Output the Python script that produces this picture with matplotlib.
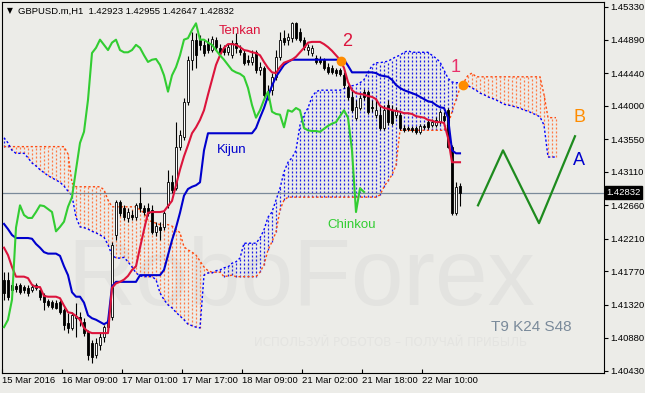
import matplotlib.pyplot as plt
import matplotlib.transforms as mtransforms
import numpy as np

# GBPUSD.m H1, prices in points (price * 10000); index = bar number
opens = [14166, 14166, 14159, 14157, 14159, 14156, 14155, 14152, 14155, 14152,
         14145, 14137, 14136, 14135, 14136, 14125, 14108, 14101, 14114, 14116,
         14109, 14096, 14081, 14065, 14078, 14089, 14102, 14116, 14226, 14271,
         14262, 14249, 14253, 14250, 14269, 14262, 14262, 14260, 14230, 14237,
         14237, 14266, 14297, 14289, 14345, 14358, 14405, 14462, 14489, 14489,
         14482, 14485, 14475, 14489, 14478, 14478, 14472, 14468, 14485, 14475,
         14471, 14462, 14459, 14472, 14448, 14451, 14419, 14421, 14439, 14466,
         14491, 14489, 14491, 14511, 14499, 14489, 14475, 14471, 14464, 14463,
         14462, 14452, 14451, 14448, 14448, 14441, 14425, 14412, 14384, 14397,
         14419, 14419, 14398, 14388, 14388, 14370, 14401, 14394, 14388, 14388,
         14370, 14370, 14370, 14370, 14365, 14373, 14378, 14374, 14374, 14378,
         14386, 14394, 14345, 14256, 14292.3]
highs = [14176, 14176, 14163, 14161, 14161, 14159, 14159, 14160, 14161, 14155,
         14148, 14140, 14139, 14139, 14139, 14128, 14121, 14122, 14135, 14122,
         14114, 14098, 14085, 14087, 14094, 14105, 14116, 14217, 14273, 14273,
         14266, 14262, 14260, 14269, 14291, 14266, 14269, 14266, 14244, 14244,
         14260, 14314, 14307, 14378, 14367, 14411, 14467, 14499, 14498, 14495,
         14489, 14491, 14494, 14493, 14483, 14482, 14483, 14489, 14498, 14482,
         14475, 14468, 14475, 14475, 14459, 14454, 14428, 14444, 14475, 14499,
         14502, 14498, 14513, 14513, 14505, 14493, 14483, 14482, 14468, 14467,
         14464, 14458, 14455, 14451, 14451, 14446, 14428, 14421, 14408, 14415,
         14423, 14421, 14408, 14410, 14401, 14401, 14408, 14401, 14398, 14392,
         14374, 14373, 14373, 14373, 14376, 14376, 14381, 14382, 14385, 14394,
         14392, 14397, 14347, 14297, 14295.5]
lows = [14139, 14139, 14148, 14149, 14147, 14148, 14144, 14149, 14152, 14139,
        14125, 14129, 14126, 14126, 14120, 14098, 14094, 14098, 14089, 14104,
        14090, 14058, 14054, 14060, 14071, 14082, 14098, 14112, 14219, 14252,
        14246, 14244, 14246, 14246, 14257, 14253, 14252, 14227, 14225, 14219,
        14233, 14262, 14283, 14287, 14341, 14354, 14401, 14448, 14451, 14475,
        14467, 14471, 14472, 14475, 14468, 14468, 14468, 14464, 14471, 14468,
        14455, 14455, 14455, 14444, 14441, 14410, 14408, 14415, 14435, 14462,
        14482, 14482, 14486, 14489, 14486, 14475, 14468, 14467, 14456, 14456,
        14448, 14443, 14443, 14440, 14440, 14424, 14408, 14392, 14381, 14394,
        14408, 14389, 14392, 14384, 14367, 14367, 14374, 14374, 14384, 14367,
        14365, 14366, 14365, 14362, 14362, 14369, 14369, 14371, 14371, 14376,
        14378, 14343, 14253, 14253, 14264.7]
closes = [14148, 14143, 14152, 14153, 14149, 14152, 14148, 14156, 14159, 14143,
          14136, 14132, 14129, 14128, 14122, 14105, 14101, 14118, 14117, 14112,
          14094, 14065, 14062, 14081, 14089, 14102, 14112, 14213, 14271, 14256,
          14250, 14257, 14250, 14266, 14262, 14257, 14256, 14230, 14238, 14233,
          14256, 14297, 14287, 14345, 14361, 14405, 14462, 14489, 14468, 14482,
          14471, 14475, 14490, 14479, 14471, 14472, 14479, 14485, 14478, 14472,
          14458, 14459, 14466, 14448, 14452, 14415, 14412, 14439, 14466, 14489,
          14486, 14493, 14511, 14491, 14489, 14479, 14479, 14478, 14459, 14459,
          14451, 14445, 14445, 14444, 14443, 14428, 14412, 14394, 14398, 14410,
          14412, 14392, 14397, 14394, 14370, 14394, 14378, 14377, 14394, 14370,
          14367, 14369, 14367, 14365, 14373, 14371, 14371, 14378, 14381, 14392,
          14381, 14345, 14256, 14291, 14283.2]

tenkan = [14209, 14199, 14183, 14170, 14170, 14170, 14168, 14159, 14156, 14156,
          14144, 14143, 14143, 14143, 14141, 14131, 14122, 14121, 14117, 14112,
          14101, 14096, 14094, 14094, 14094, 14094, 14094, 14155, 14161, 14163,
          14166, 14171, 14179, 14184, 14209, 14233, 14256, 14257, 14257, 14257,
          14258, 14265, 14272, 14293, 14314, 14332, 14347, 14363, 14371, 14381,
          14394, 14415, 14435, 14455, 14468, 14478, 14483, 14483, 14482, 14479,
          14475, 14474, 14472, 14471, 14468, 14459, 14451, 14445, 14444, 14452,
          14458, 14460, 14462, 14466, 14472, 14478, 14485, 14486, 14486, 14486,
          14483, 14479, 14474, 14468, 14462, 14451, 14432, 14421, 14417, 14416,
          14415, 14413, 14412, 14409, 14400, 14397, 14396, 14394, 14393, 14392,
          14390, 14390, 14389, 14386, 14385, 14384, 14381, 14380, 14378, 14378,
          14377, 14357, 14324, 14324, 14324]
kijun = [14241, 14234, 14226, 14222, 14222, 14222, 14222, 14221, 14214, 14209,
         14203, 14201, 14201, 14201, 14198, 14184, 14172, 14149, 14143, 14143,
         14135, 14118, 14114, 14112, 14109, 14106, 14109, 14157, 14163, 14163,
         14163, 14163, 14163, 14163, 14172, 14172, 14172, 14172, 14172, 14172,
         14179, 14199, 14219, 14236, 14256, 14279, 14288, 14291, 14293, 14297,
         14340, 14363, 14363, 14363, 14363, 14363, 14363, 14363, 14363, 14363,
         14363, 14363, 14363, 14370, 14384, 14397, 14413, 14427, 14439, 14447,
         14455, 14459, 14462, 14462, 14462, 14462, 14462, 14462, 14462, 14462,
         14462, 14462, 14462, 14462, 14462, 14462, 14454, 14445, 14445, 14445,
         14445, 14445, 14445, 14444, 14441, 14440, 14439, 14435, 14428, 14424,
         14421, 14419, 14417, 14415, 14412, 14409, 14406, 14405, 14401, 14398,
         14397, 14384, 14340, 14336, 14336]
chinkou = [14102, 14112, 14139, 14236, 14266, 14253, 14249, 14249, 14257, 14266,
           14265, 14261, 14257, 14231, 14237, 14244, 14264, 14277, 14314, 14350,
           14365, 14408, 14471, 14478, 14489, 14482, 14475, 14485, 14489, 14475,
           14472, 14472, 14475, 14482, 14478, 14468, 14459, 14462, 14463, 14455,
           14441, 14419, 14441, 14452, 14468, 14489, 14491, 14502, 14511, 14489,
           14489, 14485, 14482, 14475, 14468, 14462, 14455, 14448, 14445, 14443,
           14439, 14424, 14401, 14384, 14394, 14408, 14419, 14392, 14389, 14388,
           14371, 14394, 14392, 14397, 14394, 14370, 14367, 14366, 14366, 14365,
           14369, 14373, 14376, 14378, 14386, 14394, 14384, 14340, 14257, 14289,
           14284]
span_a = [14345, 14345, 14345, 14345, 14345, 14345, 14345, 14345, 14345, 14345,
          14345, 14345, 14345, 14345, 14345, 14345, 14335, 14296, 14291, 14291,
          14291, 14291, 14291, 14291, 14291, 14287, 14273, 14264, 14264, 14264,
          14264, 14264, 14264, 14264, 14260, 14256, 14246, 14244, 14242, 14240,
          14240, 14240, 14238, 14234, 14229, 14210, 14206, 14203, 14199, 14191,
          14183, 14178, 14176, 14176, 14176, 14170, 14171, 14172, 14170, 14170,
          14170, 14170, 14170, 14170, 14176, 14186, 14206, 14217, 14230, 14260,
          14273, 14277, 14277, 14277, 14277, 14277, 14277, 14277, 14277, 14277,
          14277, 14277, 14277, 14277, 14277, 14277, 14277, 14277, 14277, 14277,
          14277, 14277, 14277, 14277, 14280, 14291, 14299, 14307, 14320, 14367,
          14367, 14367, 14367, 14367, 14367, 14367, 14367, 14367, 14367, 14367,
          14367, 14374, 14392, 14408, 14424, 14432, 14441, 14444, 14439, 14439,
          14439, 14439, 14439, 14439, 14439, 14439, 14439, 14439, 14439, 14439,
          14439, 14439, 14439, 14439, 14439, 14415, 14384, 14384, 14384]
span_b = [14357, 14350, 14340, 14336, 14336, 14336, 14330, 14323, 14319, 14314,
          14310, 14306, 14303, 14300, 14297, 14292, 14285, 14279, 14250, 14237,
          14236, 14234, 14231, 14229, 14226, 14223, 14213, 14199, 14195, 14195,
          14196, 14190, 14183, 14175, 14171, 14170, 14170, 14170, 14166, 14148,
          14139, 14132, 14128, 14122, 14117, 14112, 14106, 14104, 14102, 14101,
          14172, 14175, 14175, 14178, 14179, 14182, 14183, 14188, 14190, 14195,
          14215, 14215, 14215, 14215, 14222, 14233, 14250, 14257, 14273, 14289,
          14311, 14324, 14330, 14340, 14374, 14388, 14397, 14412, 14419, 14421,
          14421, 14421, 14421, 14421, 14421, 14423, 14424, 14427, 14428, 14431,
          14435, 14445, 14454, 14458, 14458, 14459, 14460, 14463, 14466, 14468,
          14472, 14474, 14472, 14472, 14472, 14472, 14472, 14468, 14464, 14459,
          14448, 14437, 14432, 14431, 14431, 14429, 14427, 14424, 14421, 14417,
          14415, 14412, 14410, 14408, 14405, 14402, 14401, 14400, 14398, 14397,
          14394, 14393, 14390, 14388, 14385, 14374, 14331, 14331, 14331]

# forecast zigzag and marker points (bar, points)
zig_bar = [118.5, 124.75, 133.75, 142.75]
zig_pts = [14266, 14340, 14242, 14359]
cross_bar = [84.25, 114.75]
cross_pts = [14460, 14428]

last_price = 1.42832
price_ticks = ['1.45330', '1.44890', '1.44440', '1.44000', '1.43550', '1.43110',
               '1.42660', '1.42210', '1.41770', '1.41320', '1.40880', '1.40430']
time_bars = [15, 30, 45, 60, 75, 90, 105]
time_labels = ['16 Mar 09:00', '17 Mar 01:00', '17 Mar 17:00', '18 Mar 09:00',
               '21 Mar 02:00', '21 Mar 18:00', '22 Mar 10:00']

bg = '#ECECE8'
plt.rcParams['font.family'] = ['Liberation Sans', 'DejaVu Sans']

def px(v):
    return np.array(v, dtype=float) / 10000.0

fig = plt.figure(figsize=(6.45, 3.93), dpi=100, facecolor=bg)
ax = fig.add_axes([2 / 645, 20 / 393, 602 / 645, 371 / 393])
ax.set_facecolor(bg)

# watermark
ax.text(0.497, 0.183, 'RoboForex', transform=ax.transAxes, fontsize=68,
        color='#E3E3E0', ha='center', va='baseline', zorder=0)
ax.text(0.645, 0.082, 'ИСПОЛЬЗУЙ РОБОТОВ – ПОЛУЧАЙ ПРИБЫЛЬ', transform=ax.transAxes,
        fontsize=8.5, color='#E4E4E1', ha='center', va='center', zorder=0,
        family=['DejaVu Sans'])

# cloud
A = px(span_a)
B = px(span_b)
ib = np.arange(len(A))
up = A >= B
dots = (0, (1.6, 1.6))
ax.vlines(ib[up], B[up], A[up], colors='#FF7A45', linestyles=dots, lw=0.9, zorder=1)
ax.vlines(ib[~up], A[~up], B[~up], colors='#1E1EE6', linestyles=dots, lw=0.9, zorder=1)
ax.plot(ib, A, color='#FF4A10', ls=dots, lw=1.0, zorder=1.2)
ax.plot(ib, B, color='#0000FF', ls=dots, lw=1.0, zorder=1.2)

ax.axhline(last_price, color='#7A8A9A', lw=0.9, zorder=1.5)

# candles
o, h, l, c = px(opens), px(highs), px(lows), px(closes)
ic = np.arange(len(o))
ax.vlines(ic, l, h, color='black', lw=0.8, zorder=2)
bull = c >= o
body = np.maximum(np.abs(c - o), 0.00012)
ax.bar(ic[bull], body[bull], bottom=np.minimum(o, c)[bull], width=0.55,
       color='white', edgecolor='black', lw=0.6, zorder=2.1)
ax.bar(ic[~bull], body[~bull], bottom=np.minimum(o, c)[~bull], width=0.55,
       color='black', edgecolor='black', lw=0.6, zorder=2.1)

# ichimoku lines
ax.plot(np.arange(len(kijun)), px(kijun), color='#0000CD', lw=1.5, zorder=3)
ax.plot(np.arange(len(tenkan)), px(tenkan), color='#DC143C', lw=1.5, zorder=3.1)
ax.plot(np.arange(len(chinkou)), px(chinkou), color='#32CD32', lw=1.5, zorder=3.2)

# annotations
ax.plot(zig_bar, px(zig_pts), color='#1E8B1E', lw=1.6, zorder=3)
ax.plot(cross_bar, px(cross_pts), 'o', color='#FF8C00', ms=6, mec='#FF8C00', zorder=3.5)
ax.text(59, 1.4501, 'Tenkan', color='#DC143C', fontsize=9.5, ha='center', va='center')
ax.text(56.8, 1.4340, 'Kijun', color='#0000CD', fontsize=9.5, ha='center', va='center')
ax.text(87, 1.4240, 'Chinkou', color='#32CD32', fontsize=9.5, ha='center', va='center')
ax.text(85.8, 1.4486, '2', color='#DC143C', fontsize=13, ha='center', va='center')
ax.text(112.8, 1.4452, '1', color='#E8306A', fontsize=13, ha='center', va='center')
ax.text(143.8, 1.4384, 'B', color='#FF8C00', fontsize=13, ha='center', va='center')
ax.text(143.8, 1.4327, 'A', color='#0000CD', fontsize=13, ha='center', va='center')
ax.text(131.8, 1.4102, 'T9 K24 S48', color='#7A8A9A', fontsize=11, ha='center', va='center')

# header
ax.text(0.009, 0.976, '▼', transform=ax.transAxes, fontsize=5.5, va='center',
        family=['DejaVu Sans'])
ax.text(0.027, 0.976, 'GBPUSD.m,H1  1.42923 1.42955 1.42647 1.42832',
        transform=ax.transAxes, fontsize=6.8, va='center')

# axes
ax.set_xlim(-0.5, 150.0)
ax.set_ylim(1.40403, 1.45397)
for s in ax.spines.values():
    s.set_color('black')
    s.set_linewidth(0.8)

ax.yaxis.tick_right()
ax.set_yticks([float(t) for t in price_ticks])
ax.set_yticklabels(price_ticks)
ax.tick_params(axis='y', direction='out', length=3, width=0.8, pad=1.5, labelsize=6.8)

ax.set_xticks([-0.5] + [b - 0.4 for b in time_bars])
ax.set_xticklabels(['15 Mar 2016'] + time_labels)
ax.tick_params(axis='x', direction='in', length=3, width=0.8, pad=2, labelsize=6.8)
for lbl in ax.get_xticklabels():
    lbl.set_horizontalalignment('left')

tr = mtransforms.blended_transform_factory(ax.transAxes, ax.transData)
ax.text(1.004, last_price, '1.42832', transform=tr, color='white', fontsize=6.8,
        va='center', ha='left', bbox=dict(fc='black', ec='black', pad=1.2), zorder=5,
        clip_on=False)

fig.savefig('out.png', dpi=100, facecolor=bg)
